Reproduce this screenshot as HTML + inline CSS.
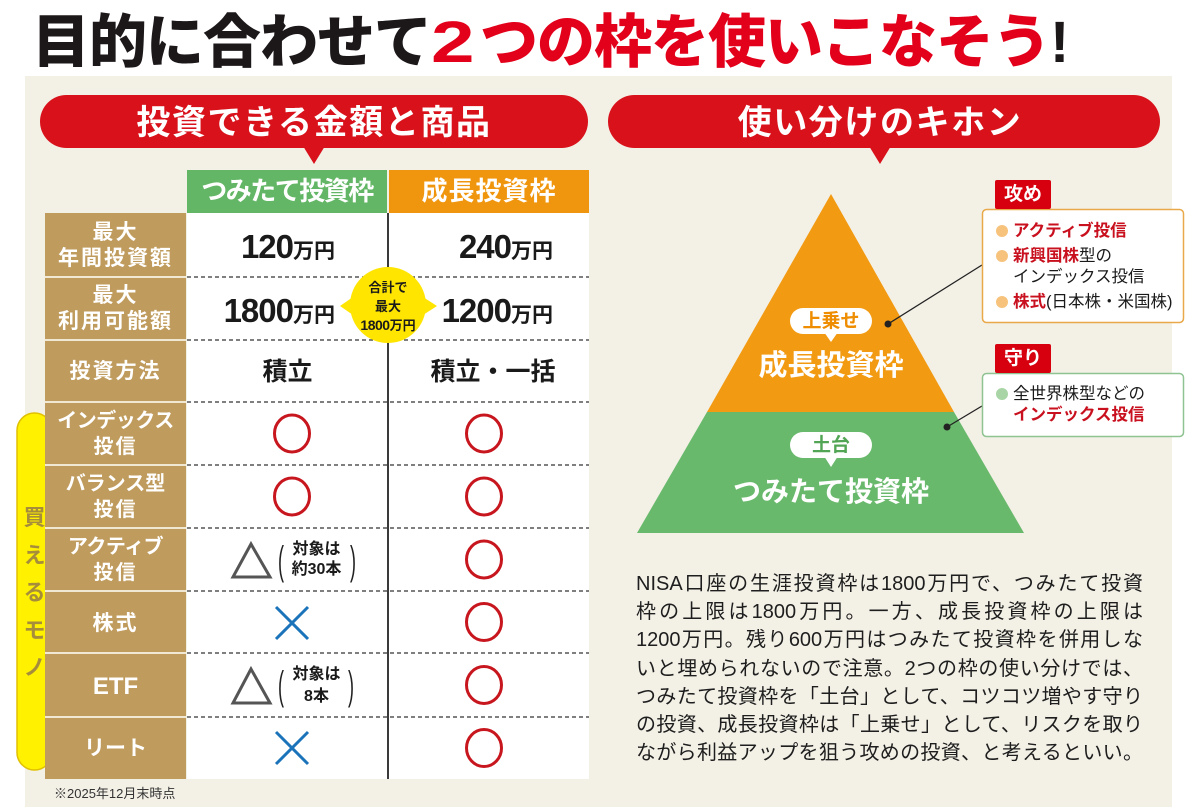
<!DOCTYPE html>
<html><head><meta charset="utf-8">
<style>
*{margin:0;padding:0;box-sizing:border-box}
body{width:1200px;height:812px;position:relative;overflow:hidden;background:#fff;font-family:"Liberation Sans","Noto Sans CJK JP",sans-serif}
.a{position:absolute;white-space:nowrap}
.c{text-align:center}
.w{color:#fff;font-weight:700}
.lb{left:45px;width:141px;font-size:21px;line-height:26px;letter-spacing:2px;color:#fff;font-weight:700;text-align:center}
.num{font-size:33px;line-height:40px;font-weight:700;color:#1a1a1a;text-align:right}
.num b{letter-spacing:-1px}
.num span{font-size:21px;font-weight:700}
.pl{position:absolute;left:636px;width:507px;font-size:20px;line-height:28.2px;color:#1e1e1e;text-align:justify;text-align-last:justify}
.ct{position:absolute;left:1013px;font-size:16.5px;line-height:21px;color:#1a1a1a;white-space:nowrap}
.ct .r{color:#c8101e;font-weight:700}
</style></head><body>
<svg width="1200" height="812" style="position:absolute;left:0;top:0" xmlns="http://www.w3.org/2000/svg">
<rect x="25" y="76" width="1147" height="731" fill="#f3f0e6"/>
<!-- banners -->
<rect x="40" y="95" width="548" height="53" rx="26.5" fill="#d8111b"/>
<polygon points="303,146 325,146 314,164" fill="#d8111b"/>
<rect x="608" y="95" width="552" height="53" rx="26.5" fill="#d8111b"/>
<polygon points="869,146 891,146 880,164" fill="#d8111b"/>
<!-- headers -->
<rect x="187" y="170" width="200" height="43" fill="#63b666"/>
<rect x="389" y="170" width="200" height="43" fill="#f0960e"/>
<!-- yellow pill -->
<rect x="17" y="413" width="35" height="357" rx="17.5" fill="#fff100" stroke="#e0c000" stroke-width="1.5"/>
<!-- label column -->
<rect x="45" y="213" width="141" height="566" fill="#bf9b5d"/>
<g stroke="#f1e8d4" stroke-width="2">
<line x1="45" y1="277" x2="186" y2="277"/><line x1="45" y1="340" x2="186" y2="340"/>
<line x1="45" y1="402" x2="186" y2="402"/><line x1="45" y1="465" x2="186" y2="465"/>
<line x1="45" y1="528" x2="186" y2="528"/><line x1="45" y1="591" x2="186" y2="591"/>
<line x1="45" y1="653" x2="186" y2="653"/><line x1="45" y1="717" x2="186" y2="717"/>
</g>
<!-- body -->
<rect x="187" y="213" width="402" height="566" fill="#fff"/>
<g stroke="#333" stroke-width="1.3" stroke-dasharray="4 3">
<line x1="187" y1="277" x2="589" y2="277"/><line x1="187" y1="340" x2="589" y2="340"/>
<line x1="187" y1="402" x2="589" y2="402"/><line x1="187" y1="465" x2="589" y2="465"/>
<line x1="187" y1="528" x2="589" y2="528"/><line x1="187" y1="591" x2="589" y2="591"/>
<line x1="187" y1="653" x2="589" y2="653"/><line x1="187" y1="717" x2="589" y2="717"/>
</g>
<line x1="388" y1="213" x2="388" y2="779" stroke="#3a3a3a" stroke-width="2"/>
<!-- yellow bubble -->
<circle cx="388" cy="305" r="38" fill="#ffe500"/>
<polygon points="353,297 340,306 353,315" fill="#ffe500"/>
<polygon points="423,297 437,306 423,315" fill="#ffe500"/>
<!-- circles -->
<g fill="none" stroke="#c8161e" stroke-width="3">
<ellipse cx="292" cy="433.5" rx="17.5" ry="18.5"/>
<ellipse cx="292" cy="496.5" rx="17.5" ry="18.5"/>
<ellipse cx="484" cy="433.5" rx="17.5" ry="18.5"/>
<ellipse cx="484" cy="496.5" rx="17.5" ry="18.5"/>
<ellipse cx="484" cy="559.5" rx="17.5" ry="18.5"/>
<ellipse cx="484" cy="622" rx="17.5" ry="18.5"/>
<ellipse cx="484" cy="685" rx="17.5" ry="18.5"/>
<ellipse cx="484" cy="748" rx="17.5" ry="18.5"/>
</g>
<!-- triangles -->
<g fill="none" stroke="#555" stroke-width="3" stroke-linejoin="miter">
<polygon points="251,544 233,577 270,577"/>
<polygon points="251,669 233,703 270,703"/>
</g>
<!-- crosses -->
<g stroke="#1b73ba" stroke-width="3">
<line x1="276" y1="607" x2="308" y2="639"/><line x1="308" y1="607" x2="276" y2="639"/>
<line x1="276" y1="732" x2="308" y2="764"/><line x1="308" y1="732" x2="276" y2="764"/>
</g>
<!-- parens -->
<g font-family="Liberation Sans" font-size="18" fill="#222">
<text transform="translate(278,574) scale(1,2.2)">(</text>
<text transform="translate(350,574) scale(1,2.2)">)</text>
<text transform="translate(278,699) scale(1,2.2)">(</text>
<text transform="translate(348,699) scale(1,2.2)">)</text>
</g>
<!-- pyramid -->
<polygon points="831,194 954,412 707,412" fill="#f29a12"/>
<polygon points="707,412 954,412 1024,533 637,533" fill="#69b96c"/>
<rect x="790" y="308" width="82" height="26" rx="13" fill="#fff"/>
<polygon points="824,332 838,332 831,342" fill="#fff"/>
<rect x="790" y="432" width="82" height="26" rx="13" fill="#fff"/>
<polygon points="824,456 838,456 831,467" fill="#fff"/>
<!-- connectors -->
<line x1="888" y1="324" x2="982" y2="265" stroke="#222" stroke-width="1.3"/>
<circle cx="888" cy="324" r="3.5" fill="#222"/>
<line x1="947" y1="427" x2="982" y2="406" stroke="#222" stroke-width="1.3"/>
<circle cx="947" cy="427" r="3.5" fill="#222"/>
<!-- callouts -->
<rect x="982.5" y="209.5" width="201" height="113" rx="4" fill="#fff" stroke="#e9a94a" stroke-width="1.5"/>
<rect x="995" y="180" width="56" height="29" rx="2" fill="#d7000f"/>
<rect x="982.5" y="373.5" width="201" height="63" rx="4" fill="#fff" stroke="#8fc391" stroke-width="1.5"/>
<rect x="995" y="344" width="56" height="29" rx="2" fill="#d7000f"/>
<g fill="#f7c37c">
<circle cx="1002" cy="231" r="6"/><circle cx="1002" cy="256" r="6"/><circle cx="1002" cy="302" r="6"/>
</g>
<circle cx="1002" cy="394" r="6" fill="#a9d5a6"/>
</svg>

<!-- title -->
<div class="a" style="left:32px;top:9px;font-size:58px;line-height:68px;font-weight:900;letter-spacing:-1px;color:#1c1718">目的に合わせて<span style="color:#e3001a"><span style="display:inline-block;width:49px;transform:scaleX(1.35);transform-origin:left">2</span>つの枠を使いこなそう</span>!</div>

<!-- banners text -->
<div class="a c w" style="left:40px;top:97px;width:548px;font-size:34px;line-height:53px;letter-spacing:1.6px">投資できる金額と商品</div>
<div class="a c w" style="left:608px;top:97px;width:544px;font-size:34px;line-height:53px;letter-spacing:1.6px">使い分けのキホン</div>

<!-- headers -->
<div class="a c w" style="left:187px;top:170px;width:200px;font-size:26px;line-height:43px;letter-spacing:-1.5px">つみたて投資枠</div>
<div class="a c w" style="left:389px;top:170px;width:200px;font-size:26px;line-height:43px;letter-spacing:1px">成長投資枠</div>

<!-- labels -->
<div class="a lb" style="top:220px">最大<br>年間投資額</div>
<div class="a lb" style="top:283px">最大<br>利用可能額</div>
<div class="a lb" style="top:357px;line-height:30px">投資方法</div>
<div class="a lb" style="top:408px;font-size:20px;letter-spacing:-0.5px">インデックス<br><span style="letter-spacing:2px">投信</span></div>
<div class="a lb" style="top:471px;font-size:20px;letter-spacing:0">バランス型<br><span style="letter-spacing:2px">投信</span></div>
<div class="a lb" style="top:534px;font-size:20px;letter-spacing:-0.5px">アクティブ<br><span style="letter-spacing:2px">投信</span></div>
<div class="a lb" style="top:609px;line-height:30px">株式</div>
<div class="a lb" style="top:672px;line-height:30px;font-size:24px;letter-spacing:0">ETF</div>
<div class="a lb" style="top:734px;line-height:30px;letter-spacing:0">リート</div>

<!-- yellow pill text -->
<div class="a c" style="left:17px;top:499px;width:35px;font-size:22px;line-height:37.6px;font-weight:700;color:#a68d3b">買<br>え<br>る<br>モ<br>ノ</div>

<!-- numbers -->
<div class="a num" style="right:865px;top:227px"><b>120</b><span>万円</span></div>
<div class="a num" style="right:647px;top:227px"><b>240</b><span>万円</span></div>
<div class="a num" style="right:865px;top:291px"><b>1800</b><span>万円</span></div>
<div class="a num" style="right:647px;top:291px"><b>1200</b><span>万円</span></div>

<div class="a c" style="left:348px;top:279px;width:80px;font-size:13px;line-height:18.5px;font-weight:700;color:#1a1a1a">合計で<br>最大<br><span style="font-size:14px;letter-spacing:-0.5px">1800</span>万円</div>

<div class="a c" style="left:187px;top:357px;width:201px;font-size:25px;line-height:30px;font-weight:700;color:#1a1a1a">積立</div>
<div class="a c" style="left:388px;top:357px;width:210px;font-size:25px;line-height:30px;font-weight:700;color:#1a1a1a">積立・一括</div>

<div class="a c" style="left:286px;top:540px;width:61px;font-size:16px;line-height:20px;font-weight:700;color:#1a1a1a">対象は<br>約30本</div>
<div class="a c" style="left:286px;top:664px;width:61px;font-size:16px;line-height:22px;font-weight:700;color:#1a1a1a">対象は<br>8本</div>

<div class="a" style="left:54px;top:786px;font-size:13px;line-height:16px;color:#333">※2025年12月末時点</div>

<!-- pyramid text -->
<div class="a c" style="left:781px;top:309px;width:100px;font-size:19px;line-height:26px;font-weight:700;color:#ef8d00">上乗せ</div>
<div class="a c w" style="left:731px;top:348px;width:200px;font-size:29px;line-height:36px">成長投資枠</div>
<div class="a c" style="left:781px;top:433px;width:100px;font-size:19px;line-height:26px;font-weight:700;color:#53a556">土台</div>
<div class="a c w" style="left:721px;top:474px;width:220px;font-size:28px;line-height:36px">つみたて投資枠</div>

<!-- tabs -->
<div class="a c w" style="left:995px;top:180px;width:56px;font-size:19px;line-height:29px">攻め</div>
<div class="a c w" style="left:995px;top:344px;width:56px;font-size:19px;line-height:29px">守り</div>

<!-- callout items -->
<div class="ct" style="top:221px"><span class="r">アクティブ投信</span></div>
<div class="ct" style="top:246px"><span class="r">新興国株</span>型の<br>インデックス投信</div>
<div class="ct" style="top:292px"><span class="r">株式</span>(日本株・米国株)</div>
<div class="ct" style="top:384px">全世界株型などの<br><span class="r">インデックス投信</span></div>

<!-- paragraph -->
<div class="pl" style="top:570px">NISA口座の生涯投資枠は1800万円で、つみたて投資</div>
<div class="pl" style="top:598.2px">枠の上限は1800万円。一方、成長投資枠の上限は</div>
<div class="pl" style="top:626.4px">1200万円。残り600万円はつみたて投資枠を併用しな</div>
<div class="pl" style="top:654.6px">いと埋められないので注意。2つの枠の使い分けでは、</div>
<div class="pl" style="top:682.8px">つみたて投資枠を「土台」として、コツコツ増やす守り</div>
<div class="pl" style="top:711px">の投資、成長投資枠は「上乗せ」として、リスクを取り</div>
<div class="pl" style="top:739.2px">ながら利益アップを狙う攻めの投資、と考えるといい。</div>
</body></html>
